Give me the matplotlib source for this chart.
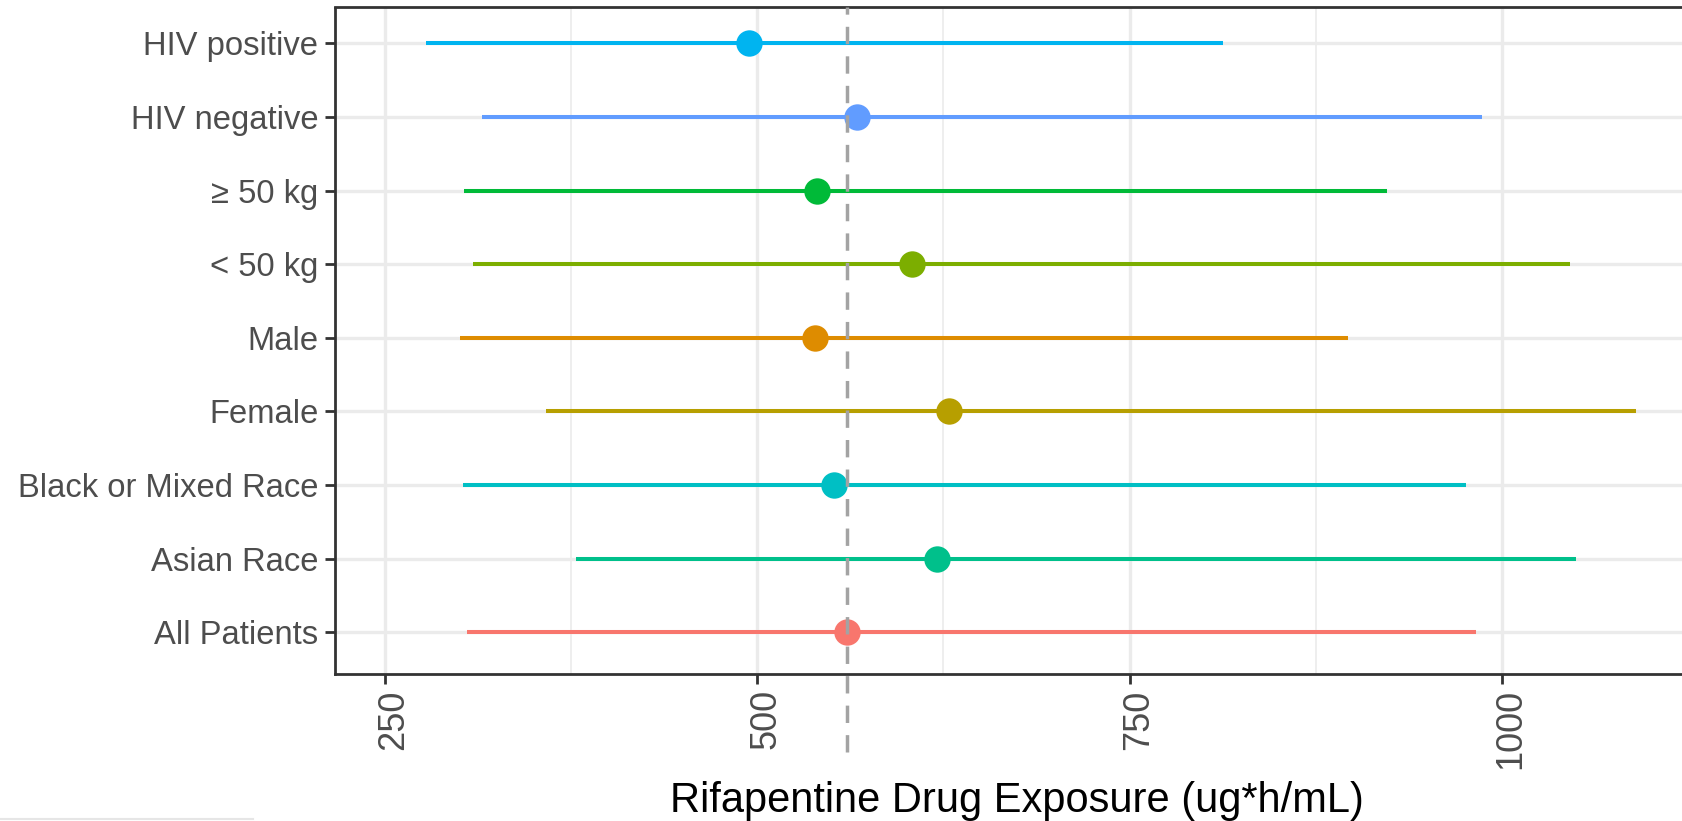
import numpy as np
import matplotlib
matplotlib.use('Agg')
import matplotlib.pyplot as plt
import matplotlib.transforms as mtransforms
from matplotlib.lines import Line2D

plt.rcParams['font.family'] = ['Liberation Sans', 'DejaVu Sans']

# Subgroups, bottom to top
groups = ['All Patients', 'Asian Race', 'Black or Mixed Race', 'Female', 'Male',
          '< 50 kg', '\u2265 50 kg', 'HIV negative', 'HIV positive']
median = [560, 620.6, 551.5, 628.8, 539, 604, 540.3, 567, 494.7]
lower = [305.3, 378.3, 302.6, 358, 300.4, 309.1, 303, 315.3, 277.5]
upper = [982.7, 1050, 976, 1090, 897, 1045.8, 923, 986.5, 812.6]
colors = ['#F8766D', '#00C08B', '#00BFC4', '#B79F00', '#DE8C00',
          '#7CAE00', '#00BA38', '#619CFF', '#00B4F0']
ref_line = 560
xticks = [250, 500, 750, 1000]
minor_ticks = [375, 625, 875]

W, H = 1683, 821
fig = plt.figure(figsize=(W / 100, H / 100), dpi=100)
left, bottom, top = 335 / W, 1 - 674 / H, 1 - 7.5 / H
ax = fig.add_axes([left, bottom, 1 - left, top - bottom])

y = np.arange(1, len(groups) + 1)

# grid
for v in xticks:
    ax.axvline(v, color='#EBEBEB', lw=2.4, zorder=0)
for v in minor_ticks:
    ax.axvline(v, color='#EBEBEB', lw=1.2, zorder=0)
for yy in y:
    ax.axhline(yy, color='#EBEBEB', lw=2.4, zorder=0)

# intervals and points
for i in range(len(groups)):
    ax.plot([lower[i], upper[i]], [y[i], y[i]], color=colors[i], lw=2.9,
            solid_capstyle='butt', zorder=2)
    ax.plot(median[i], y[i], 'o', color=colors[i], ms=19, mec='none', zorder=3)

# reference dashed line (runs past the panel bottom)
ax.plot([ref_line, ref_line], [-0.117, 1], transform=ax.get_xaxis_transform(),
        color='#A3A3A3', lw=2.5, dashes=(5, 3.5), clip_on=False, zorder=4)

ax.set_xlim(216.4, 1121.7)
ax.set_ylim(0.434, 9.486)
ax.set_yticks(y)
ax.set_yticklabels(groups)
ax.set_xticks(xticks)
ax.set_xticklabels([str(v) for v in xticks], rotation=90)

for side in ['left', 'bottom', 'top']:
    ax.spines[side].set_color('#333333')
    ax.spines[side].set_linewidth(2)
ax.spines['right'].set_visible(False)

ax.tick_params(axis='both', colors='#333333', length=7, width=2,
               labelcolor='#4D4D4D', pad=5)
ax.tick_params(axis='y', labelsize=23.6)
ax.tick_params(axis='x', labelsize=26, pad=4)
offset = mtransforms.ScaledTranslation(9 / 100, 0, fig.dpi_scale_trans)
for lab in ax.get_xticklabels():
    lab.set_transform(lab.get_transform() + offset)

ax.set_xlabel('Rifapentine Drug Exposure (ug*h/mL)', fontsize=30, color='black')
ax.xaxis.set_label_coords((1017 - 335) / (W - 335), -(812 - 674) / (674 - 7.5))
ax.xaxis.label.set_va('baseline')

# faint line at bottom-left edge of the original image
fig.add_artist(Line2D([0, 253 / W], [1 - 819 / H, 1 - 819 / H], color='#E6E6E6', lw=1.5))

fig.savefig('out.png', dpi=100)
